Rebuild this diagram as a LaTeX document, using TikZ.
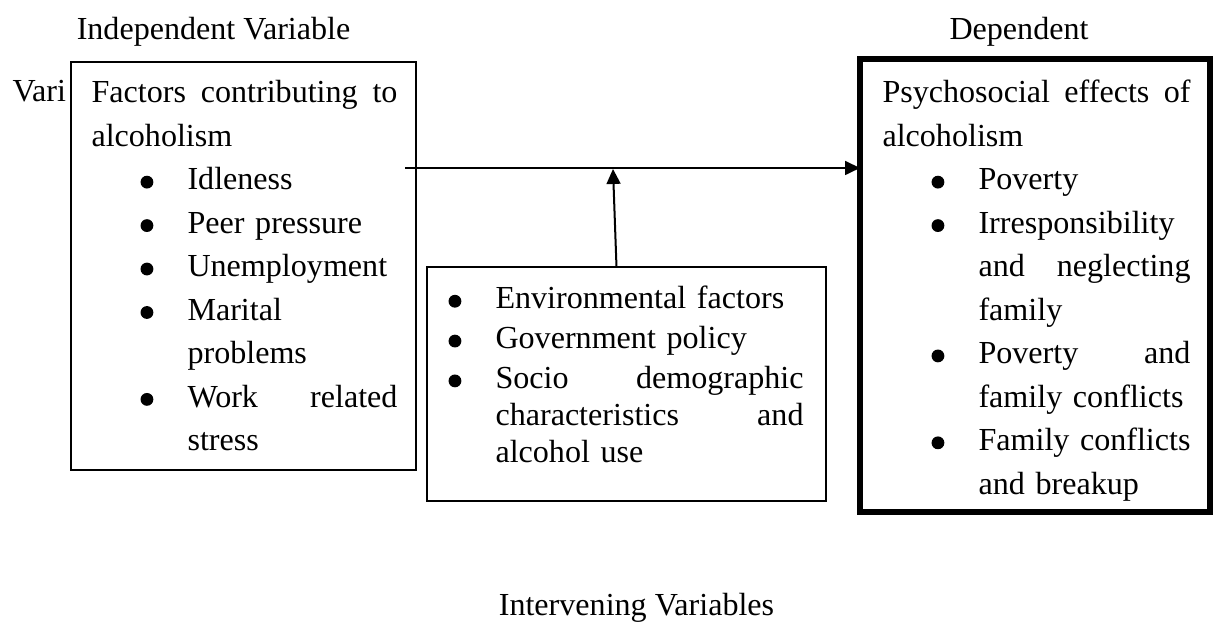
\documentclass[tikz,border=0pt]{standalone}
\usepackage{fontspec}
\setmainfont{Liberation Serif}
\usetikzlibrary{arrows.meta,positioning}
\newlength\px
\setlength\px{0.374pt}
\newcommand{\jfill}[2]{\makebox[\dimexpr\hsize-#1\px\relax][s]{\spaceskip=0pt\xspaceskip=0pt\relax #2}}
\newcommand{\jline}[2][0]{\hspace*{#1\px}\jfill{#1}{#2}}
\newcommand{\bdot}{\tikz[baseline=-2.9pt]\fill (0,0) circle (2.4pt);}
\newcommand{\bitem}[2][49]{\hspace*{#1\px}\makebox[47\px][l]{\bdot}#2}
\newcommand{\cont}{\hspace*{96\px}}

\begin{document}
\begin{tikzpicture}[x=0.374pt,y=-0.374pt,
    lbl/.style={inner sep=0pt,font=\fontsize{12}{14}\selectfont},
    box/.style={draw,line width=0.75pt,fill=white,inner sep=0pt,outer sep=0pt,anchor=north west},
    thickbox/.style={box,line width=1.9pt},
    txt/.style={inner sep=0pt,align=left,anchor=base west,font=\fontsize{12}{16.25}\selectfont},
    arr/.style={line width=0.75pt,-{Triangle[length=5.6pt,width=5.2pt]}}]
  \useasboundingbox (0,0) rectangle (1216,622);
  \node[lbl,anchor=base] (ivlabel) at (213.5,40) {Independent Variable};
  \node[lbl,anchor=base] (dvlabel) at (1019,40) {Dependent};
  \node[lbl,anchor=base west] (varlabel) at (12,102) {Vari};
  \node[lbl,anchor=base] (intlabel) at (636.5,616) {Intervening Variables};

  \node[box,minimum width=345\px,minimum height=408\px] (indep) at (71,62) {};
  \node[txt,text width=306\px] (indeptxt) at ([xshift=20\px,yshift=-41\px]indep.north west) {%
    \jline{Factors contributing to}\\
    alcoholism\\
    \bitem{Idleness}\\
    \bitem{Peer pressure}\\
    \bitem{Unemployment}\\
    \bitem{Marital}\\
    \cont problems\\
    \bitem{\jfill{96}{Work related}}\\
    \cont stress};

  \node[thickbox,minimum width=350\px,minimum height=453\px] (dep) at (860,59) {};
  \node[txt,text width=308\px] (deptxt) at ([xshift=22\px,yshift=-44\px]dep.north west) {%
    \jline{Psychosocial effects of}\\
    alcoholism\\
    \bitem{Poverty}\\
    \bitem{Irresponsibility}\\
    \cont\jfill{96}{and neglecting}\\
    \cont family\\
    \bitem{\jfill{96}{Poverty and}}\\
    \cont family conflicts\\
    \bitem{\jfill{96}{Family conflicts}}\\
    \cont and breakup};

  \node[box,minimum width=399\px,minimum height=234\px] (inter) at (427,267) {};
  \node[txt,text width=355\px,font=\fontsize{12}{13.8}\selectfont] (intertxt) at ([xshift=21\px,yshift=-42\px]inter.north west) {%
    \bitem[0]{Environmental factors}\\[1.1pt]
    \bitem[0]{Government policy}\\[1.1pt]
    \bitem[0]{\jfill{47}{Socio demographic}}\\
    \hspace*{47\px}\jfill{47}{characteristics and}\\
    \hspace*{47\px}alcohol use};

  \coordinate (hstart) at (405,168);
  \coordinate (meet) at (613,169);
  \draw[arr] (hstart) -- (hstart -| dep.west);
  \draw[arr] ([xshift=-10\px]inter.north) -- (meet);
\end{tikzpicture}
\end{document}
